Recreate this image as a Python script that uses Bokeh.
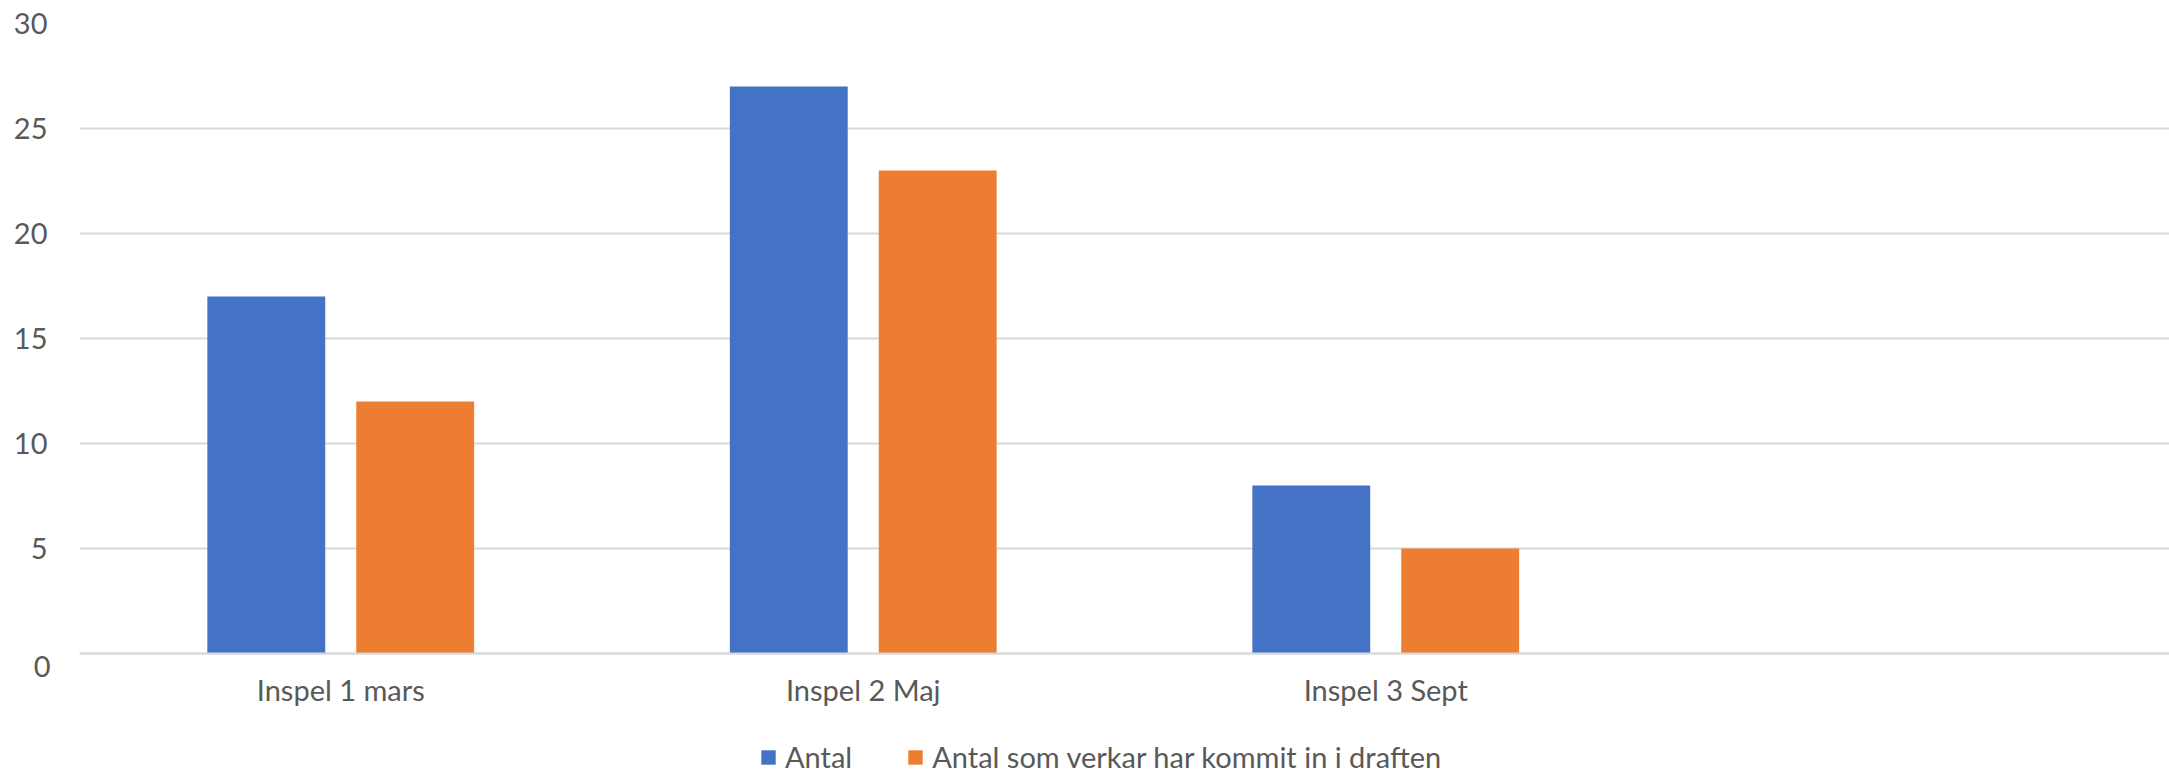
from bokeh.plotting import figure
from bokeh.models import (FactorRange, Range1d, FixedTicker, Legend, LegendItem,
                          LinearAxis, ColumnDataSource)
from bokeh.transform import dodge
from bokeh.embed import file_html
from bokeh.resources import INLINE

categories = ["Inspel 1 mars", "Inspel 2 Maj", "Inspel 3 Sept", " "]
antal = [17, 27, 8, 0]
antal_draft = [12, 23, 5, 0]
series_names = ["Antal", "Antal som verkar har kommit in i draften"]
y_ticks = [0, 5, 10, 15, 20, 25, 30]

FONT = "Lato"
FS = "29px"
TXT = "#595959"
BLUE = "#4472C4"
ORANGE = "#ED7D31"
GRID = "#D9D9D9"

src = ColumnDataSource(dict(cat=categories[:3], a=antal[:3], b=antal_draft[:3]))

# frame spans the full height below the top border; value axis 0..30 occupies the upper part
Y_LOW = -5.76
p = figure(x_range=FactorRange(*categories, range_padding=0),
           y_range=Range1d(Y_LOW, y_ticks[-1]),
           width=2169, height=774,
           output_backend="svg", toolbar_location=None,
           min_border_left=79, min_border_right=0, min_border_top=23, min_border_bottom=0)
p.extra_y_ranges = {"zero": Range1d(Y_LOW + 0.62, y_ticks[-1] + 0.62)}
p.outline_line_color = None
p.background_fill_color = "white"
p.border_fill_color = "white"

r1 = p.vbar(x=dodge("cat", -0.1425, range=p.x_range), top="a", width=0.2256, source=src,
            fill_color=BLUE, line_color=None)
r2 = p.vbar(x=dodge("cat", 0.1425, range=p.x_range), top="b", width=0.2256, source=src,
            fill_color=ORANGE, line_color=None)

p.x_range.factor_padding = 0
p.xgrid.grid_line_color = None
p.ygrid.grid_line_color = GRID
p.ygrid.grid_line_width = 2
p.ygrid.ticker = FixedTicker(ticks=y_ticks)

yax = p.yaxis[0]
yax.ticker = FixedTicker(ticks=y_ticks)
yax.axis_line_color = None
yax.major_tick_line_color = None
yax.minor_tick_line_color = None
yax.major_label_standoff = 26
yax.major_label_text_font = FONT
yax.major_label_text_font_size = FS
yax.major_label_text_color = TXT
yax.major_label_overrides = {0: ""}

# the "0" label sits a little below its line, as in the reference
zax = LinearAxis(y_range_name="zero", ticker=FixedTicker(ticks=[y_ticks[0]]),
                 axis_line_color=None, major_tick_line_color=None, minor_tick_line_color=None,
                 major_label_standoff=-46, major_label_text_font=FONT,
                 major_label_text_font_size=FS, major_label_text_color=TXT)
p.add_layout(zax, "left")

xax = p.xaxis[0]
xax.fixed_location = 0
xax.axis_line_color = GRID
xax.axis_line_width = 2
xax.major_tick_line_color = None
xax.minor_tick_line_color = None
xax.major_label_standoff = 12
xax.major_label_text_font = FONT
xax.major_label_text_font_size = FS
xax.major_label_text_color = TXT

legend = Legend(items=[LegendItem(label=series_names[0], renderers=[r1]),
                       LegendItem(label=series_names[1], renderers=[r2])],
                orientation="horizontal", location=(680, 0),
                padding=0, margin=0, spacing=54, label_standoff=8,
                glyph_width=18, glyph_height=18,
                label_text_font=FONT, label_text_font_size=FS, label_text_color=TXT,
                border_line_color=None, background_fill_alpha=0)
p.add_layout(legend, "center")

open("out.html", "w").write(file_html(p, INLINE))
